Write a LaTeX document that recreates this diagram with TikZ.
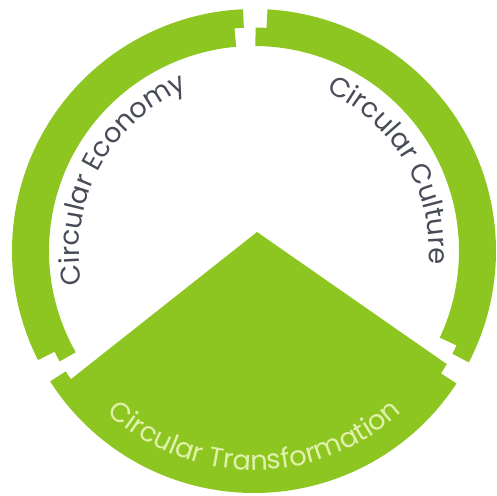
\documentclass[tikz,border=0pt]{standalone}
\usepackage{fontspec}
\setmainfont{Poppins}
\usetikzlibrary{decorations.text}
\definecolor{leaf}{RGB}{141,198,32}
\definecolor{ink}{RGB}{72,76,88}
\definecolor{pale}{RGB}{224,241,172}
% ring radii (px)
\def\Rout{242}
\def\Rmid{223.5}
\def\Rin{205}
% one stepped ring piece between two gap angles
\newcommand\ringpart[2]{%
	({#1+1.6}:\Rout) arc[start angle=#1+1.6, end angle=#2-4.2, radius=\Rout]
	-- ({#2-4.2}:\Rmid) arc[start angle=#2-4.2, end angle=#2-1.4, radius=\Rmid]
	-- ({#2-1.4}:\Rin) arc[start angle=#2-1.4, end angle=#1+4, radius=\Rin]
	-- ({#1+4}:\Rmid) arc[start angle=#1+4, end angle=#1+1.6, radius=\Rmid] -- cycle}
\tikzset{
	part/.style={
		% The filling:
		fill=leaf,
		% no border
		draw=none,
	}}
\tikzset{
	arclabel/.style 2 args={
		% text set along the arc
		decorate,
		decoration={text along path, text align=center,
			text={|\fontsize{15.5}{18}\selectfont\color{#1}|#2}},
	}}
\begin{document}
\begin{tikzpicture}[x=0.02cm,y=0.02cm]
	\useasboundingbox (-254,-244) rectangle (243,251);
	\coordinate (apex) at (3,19);
	\fill[part] \ringpart{91}{211}; % economy
	\fill[part] \ringpart{-29}{91}; % culture
	\fill[part] (apex) -- (329.6:\Rmid) arc[start angle=329.6, end angle=326.8, radius=\Rmid]
		-- (326.8:\Rout) arc[start angle=326.8, end angle=212.6, radius=\Rout]
		-- (212.6:\Rmid) arc[start angle=212.6, end angle=215, radius=\Rmid] -- cycle;
	\path[arclabel={ink}{Circular Economy}] (206.6:175) arc[start angle=206.6, end angle=96.6, radius=175];
	\path[arclabel={ink}{Circular Culture}] (80.7:175) arc[start angle=80.7, end angle=-19.3, radius=175];
	\path[arclabel={pale}{Circular Transformation}] (215.2:219) arc[start angle=215.2, end angle=325.2, radius=219];
\end{tikzpicture}
\end{document}
